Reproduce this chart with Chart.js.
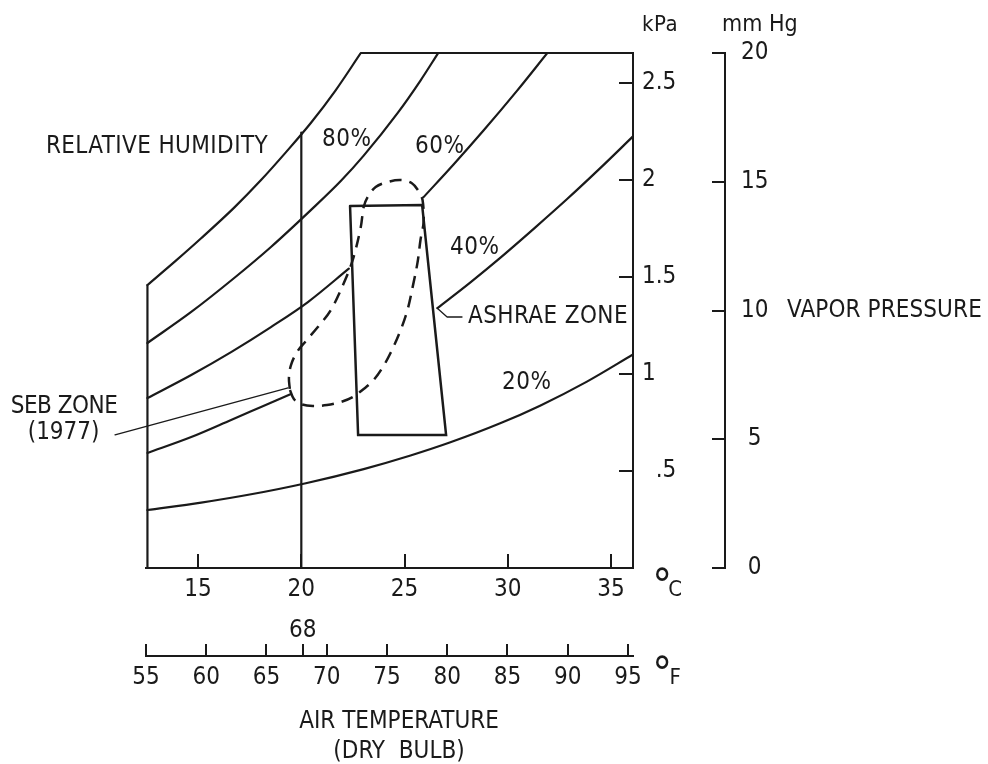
<!DOCTYPE html>
<html><head><meta charset="utf-8">
<script src="https://cdn.jsdelivr.net/npm/chart.js@4.4.1/dist/chart.umd.min.js"></script>
<style>html,body{margin:0;padding:0;background:#fff;}canvas{display:block;}</style>
</head><body>
<canvas id="c" width="988" height="764"></canvas>
<script>
// ---------- data (x = air temperature degC, y = vapour pressure kPa) ----------
const cTicks   = [15, 20, 25, 30, 35];
const fTicks   = [55, 60, 65, 68, 70, 75, 80, 85, 90, 95];
const fAbove   = [68];
const kpaTicks = [0.5, 1, 1.5, 2, 2.5];
const kpaLabels= ['  .5', '1', '1.5', '2', '2.5'];
const mmTicks  = [0, 5, 10, 15, 20];

const rh100T = [12.55, 13.90, 15.15, 16.75, 18.05, 19.26, 20.46, 21.67, 22.88];
const rh100P = [1.459, 1.582, 1.700, 1.858, 2.000, 2.144, 2.294, 2.464, 2.655];

const rh80T  = [12.55, 14.67, 16.75, 18.53, 20.46, 21.91, 23.02, 24.66, 25.77, 26.64];
const rh80P  = [1.160, 1.320, 1.495, 1.655, 1.845, 1.995, 2.126, 2.345, 2.513, 2.657];

const rh60aT = [12.55, 14.67, 16.60, 18.53, 20.32, 22.30];
const rh60aP = [0.876, 0.995, 1.113, 1.242, 1.371, 1.543];
const rh60bT = [25.92, 27.36, 28.81, 30.45, 31.95];
const rh60bP = [1.912, 2.079, 2.254, 2.461, 2.660];

const rh40aT = [12.55, 14.67, 16.60, 18.05, 19.50];
const rh40aP = [0.593, 0.675, 0.763, 0.830, 0.897];
const rh40bT = [26.59, 28.19, 29.63, 31.32, 32.87, 34.46, 36.06];
const rh40bP = [1.340, 1.473, 1.599, 1.755, 1.902, 2.060, 2.225];

const rh20T  = [12.55, 15.15, 17.57, 20.22, 23.02, 25.29, 27.22, 29.63, 31.56, 33.83, 36.06];
const rh20P  = [0.299, 0.337, 0.380, 0.437, 0.510, 0.580, 0.648, 0.746, 0.837, 0.961, 1.101];

const leftEdgeT = [12.55, 12.55];
const leftEdgeP = [0, 1.459];
const topEdgeT  = [22.88, 36.06];
const topEdgeP  = [2.655, 2.655];
const line68T   = [20, 20];
const line68P   = [0, 2.245];

const ashraeT = [22.36, 25.85, 27.01, 22.75, 22.36];
const ashraeP = [1.866, 1.871, 0.686, 0.686, 1.866];

const sebT = [19.45,19.64,19.98,20.56,21.24,21.91,22.49,23.02,23.46,23.89,24.32,24.81,25.14,25.39,25.63,25.77,25.92,25.87,25.68,25.34,
              24.81,24.18,23.60,23.21,23.02,22.88,22.49,22.06,21.43,20.80,20.22,19.79,19.50,19.40,19.45];
const sebP = [0.918,0.871,0.845,0.835,0.840,0.856,0.881,0.923,0.964,1.026,1.108,1.227,1.330,1.448,1.577,1.691,1.784,1.897,1.943,1.985,
              2.000,1.990,1.964,1.912,1.861,1.758,1.588,1.469,1.330,1.242,1.170,1.113,1.046,0.979,0.918];

const ashraeLeadT = [26.57, 27.06, 27.78];
const ashraeLeadP = [1.340, 1.294, 1.294];
const sebLeadT = [10.01, 10.98, 19.36];
const sebLeadP = [0.686, 0.686, 0.928];

// ---------- text annotations (placed through the chart scales) ----------
const notes = [
  {text:'RELATIVE HUMIDITY', x:18.39, y:2.170, align:'right', ls:0.4},
  {text:'80%', x:21.00, y:2.206},
  {text:'60%', x:25.51, y:2.170},
  {text:'40%', x:27.20, y:1.649},
  {text:'20%', x:29.72, y:0.954},
  {text:'ASHRAE ZONE', x:28.07, y:1.294, ls:0.4},
  {text:'SEB ZONE', x:8.51, y:0.830, align:'center', ls:-0.5},
  {text:'(1977)', x:8.49, y:0.696, align:'center', ls:0},
  {text:'kPa', x:36.50, y:2.799, size:22, ls:0.5},
  {text:'mm Hg', x:40.37, y:2.799, size:23, ls:0},
  {text:'VAPOR PRESSURE', x:43.52, y:10, ys:'y2', ls:0.1},
  {text:'°', x:37.47, y:-0.108, align:'center', size:44, ls:0},
  {text:'C', x:38.10, y:-0.113, align:'center', size:22, ls:0},
  {text:'°', x:37.47, y:-0.562, align:'center', size:44, ls:0},
  {text:'F', x:38.10, y:-0.567, align:'center', size:22, ls:0},
  {text:'AIR TEMPERATURE', x:24.73, y:-0.794, align:'center', ls:0},
  {text:'(DRY  BULB)', x:24.73, y:-0.948, align:'center', ls:0}
];

// ---------- chart ----------
const FONT = "'Liberation Sans Narrow','DejaVu Sans Condensed','Arial Narrow',sans-serif";
const INK = '#1a1a1a';
Chart.defaults.font.family = FONT;
Chart.defaults.font.size = 24;
Chart.defaults.color = INK;

const pts = (xs, ys) => xs.map((x, i) => ({x, y: ys[i]}));
function series(label, xs, ys, extra) {
  return Object.assign({
    label, data: pts(xs, ys), showLine: true, borderColor: INK, borderWidth: 2.2,
    pointRadius: 0, fill: false, tension: 0, borderCapStyle: 'round', borderJoinStyle: 'round'
  }, extra || {});
}
const smooth = {cubicInterpolationMode: 'monotone'};

const notesPlugin = {
  id: 'notes',
  afterDraw(chart) {
    const ctx = chart.ctx;
    ctx.save();
    ctx.fillStyle = INK;
    ctx.textBaseline = 'middle';
    notes.forEach(n => {
      const xs = chart.scales[n.xs || 'x'], ys = chart.scales[n.ys || 'y'];
      ctx.font = (n.size || 24) + 'px ' + FONT;
      ctx.letterSpacing = (n.ls === undefined ? 0.5 : n.ls) + 'px';
      ctx.textAlign = n.align || 'left';
      ctx.fillText(n.text, xs.getPixelForValue(n.x), ys.getPixelForValue(n.y));
    });
    ctx.restore();
  }
};

const setTicks = arr => s => { s.ticks = arr.map(v => ({value: v})); };
const axisGrid = len => ({drawOnChartArea: false, drawTicks: true, tickLength: len, color: INK, lineWidth: 2});
const axisBorder = {display: true, color: INK, width: 2};

new Chart(document.getElementById('c'), {
  type: 'scatter',
  data: {
    datasets: [
      series('100%', rh100T, rh100P, smooth),
      series('80%', rh80T, rh80P, smooth),
      series('60% a', rh60aT, rh60aP, smooth),
      series('60% b', rh60bT, rh60bP, smooth),
      series('40% a', rh40aT, rh40aP, smooth),
      series('40% b', rh40bT, rh40bP, smooth),
      series('20%', rh20T, rh20P, smooth),
      series('left edge', leftEdgeT, leftEdgeP),
      series('top edge', topEdgeT, topEdgeP, {clip: false}),
      series('20 C / 68 F', line68T, line68P),
      series('ASHRAE zone', ashraeT, ashraeP, {borderWidth: 2.5, borderJoinStyle: 'miter'}),
      series('SEB zone (1977)', sebT, sebP, {borderWidth: 2.5, borderDash: [12, 8], tension: 0.35, borderCapStyle: 'butt'}),
      series('ASHRAE leader', ashraeLeadT, ashraeLeadP, {borderWidth: 1.3}),
      series('SEB leader', sebLeadT, sebLeadP, {borderWidth: 1.3, clip: false})
    ]
  },
  options: {
    responsive: false,
    animation: false,
    events: [],
    layout: {padding: {left: 146, right: 203, top: 53, bottom: 0}},
    plugins: {legend: {display: false}, tooltip: {enabled: false}},
    scales: {
      x: {
        type: 'linear', position: 'bottom', weight: 0, bounds: 'data', min: 12.48, max: 36.06,
        afterBuildTicks: setTicks(cTicks),
        grid: axisGrid(-14), border: axisBorder,
        ticks: {padding: 21, autoSkip: false, maxRotation: 0, minRotation: 0, color: INK, callback: v => String(v)},
        afterFit: s => { s.height = 47; }
      },
      x3: {
        type: 'linear', position: 'bottom', weight: 1, bounds: 'data', min: 55, max: 95.415,
        afterBuildTicks: setTicks(fAbove),
        grid: {display: false, drawTicks: false}, border: {display: false},
        ticks: {padding: 1, autoSkip: false, maxRotation: 0, minRotation: 0, color: INK, callback: v => String(v)},
        afterFit: s => { s.height = 41; }
      },
      x2: {
        type: 'linear', position: 'bottom', weight: 2, bounds: 'data', min: 55, max: 95.415,
        afterBuildTicks: setTicks(fTicks),
        grid: axisGrid(-12), border: axisBorder,
        ticks: {padding: 19, autoSkip: false, maxRotation: 0, minRotation: 0, color: INK,
                callback: v => fAbove.includes(v) ? '' : String(v)},
        afterFit: s => { s.height = 108; }
      },
      y: {
        type: 'linear', position: 'right', weight: 0, bounds: 'data', min: 0, max: 2.655,
        afterBuildTicks: setTicks(kpaTicks),
        grid: axisGrid(-14), border: axisBorder,
        ticks: {padding: 23, autoSkip: false, color: INK, crossAlign: 'near',
                callback: v => kpaLabels[kpaTicks.indexOf(v)]},
        afterFit: s => { s.width = 92; }
      },
      y2: {
        type: 'linear', position: 'right', weight: 1, bounds: 'data', min: 0, max: 20,
        afterBuildTicks: setTicks(mmTicks),
        grid: axisGrid(-13), border: axisBorder,
        ticks: {padding: 29, autoSkip: false, color: INK, crossAlign: 'center', callback: v => String(v)},
        afterFit: s => { s.width = 60; }
      }
    }
  },
  plugins: [notesPlugin]
});
</script>
</body></html>
